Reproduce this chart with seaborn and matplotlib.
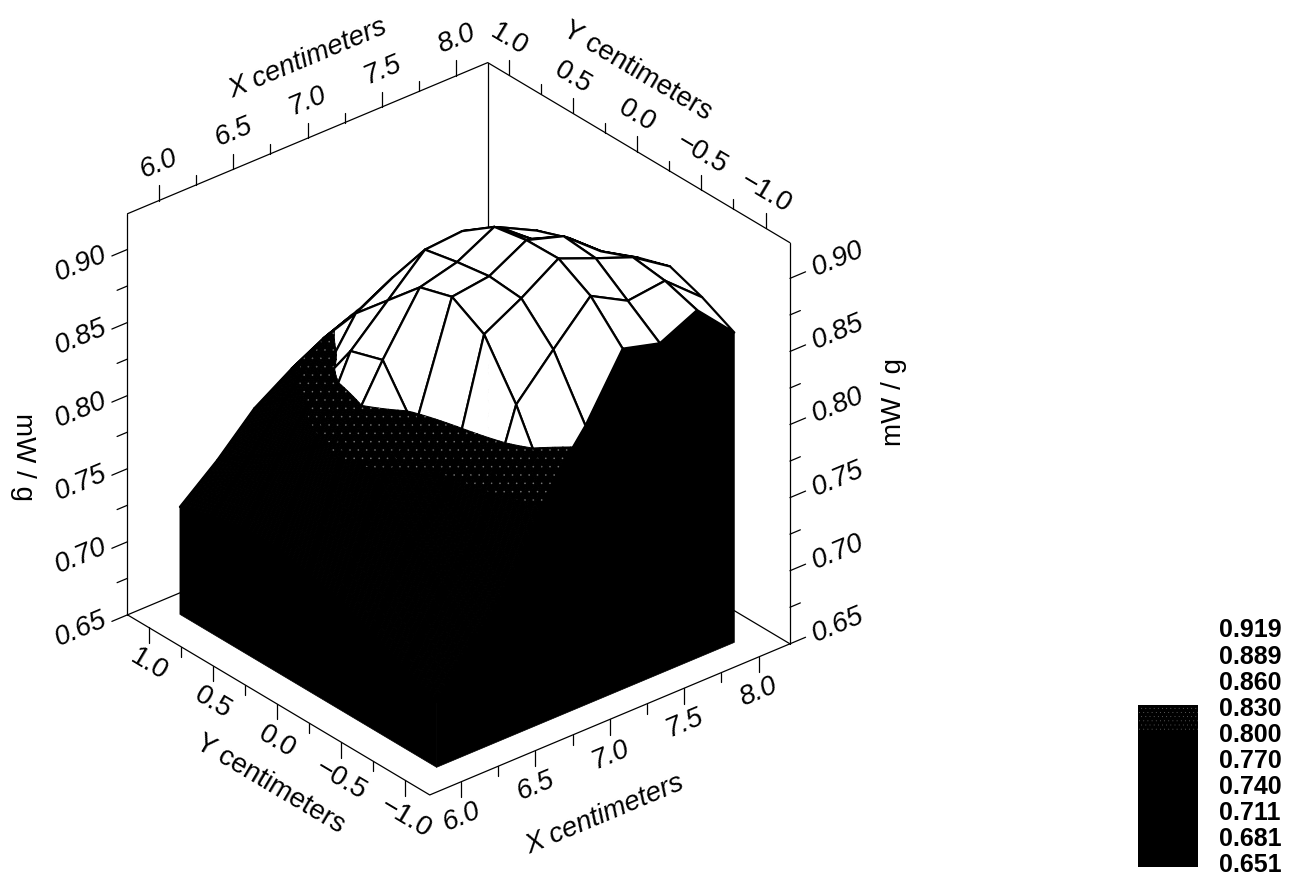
import numpy as np
import matplotlib
matplotlib.use("Agg")
import matplotlib.pyplot as plt
from matplotlib.colors import ListedColormap
from matplotlib.patches import Rectangle
from mpl_toolkits.mplot3d.art3d import Poly3DCollection
import seaborn as sns

# grid of the scan
x_nodes = [6.0, 6.25, 6.5, 6.75, 7.0, 7.25, 7.5, 7.75, 8.0]
y_nodes = [-1.0, -0.75, -0.5, -0.25, 0.0, 0.25, 0.5, 0.75, 1.0]

# mW/g, one row per x, columns follow y_nodes
sar_x600 = [.695, .705, .715, .725, .730, .735, .735, .730, .7235]
sar_x625 = [.725, .745, .765, .790, .811, .793, .775, .760, .7447]
sar_x650 = [.755, .774, .790, .8215, .855, .848, .812, .790, .7696]
sar_x675 = [.808, .853, .888, .9006, .894, .872, .850, .820, .786]
sar_x700 = [.841, .880, .902, .904, .9006, .896, .864, .830, .799]
sar_x725 = [.883, .906, .9185, .918, .914, .898, .868, .840, .805]
sar_x750 = [.876, .892, .908, .910, .895, .890, .865, .840, .810]
sar_x775 = [.888, .895, .898, .889, .885, .877, .855, .835, .810]
sar_x800 = [.862, .873, .881, .874, .864, .859, .840, .825, .800]

x_labels = ["6.0", "6.5", "7.0", "7.5", "8.0"]
y_labels = ["\u22121.0", "\u22120.5", "0.0", "0.5", "1.0"]
z_labels = ["0.65", "0.70", "0.75", "0.80", "0.85", "0.90"]
legend_levels = [0.919, 0.889, 0.860, 0.830, 0.800, 0.770, 0.740, 0.711, 0.681, 0.651]

sns.set_theme(style="white")
plt.rcParams["font.family"] = ["Liberation Sans", "DejaVu Sans"]
plt.rcParams["hatch.linewidth"] = 0.0

X = np.array(x_nodes)
Y = np.array(y_nodes)
Z = np.array([sar_x600, sar_x625, sar_x650, sar_x675, sar_x700,
              sar_x725, sar_x750, sar_x775, sar_x800])

xmin, xmax = 5.79, 8.21
ymin, ymax = -1.19, 1.165
zmin, zmax = 0.65, 0.9244

fig = plt.figure(figsize=(13.03, 8.78), dpi=100)
ax = fig.add_axes([24.8 / 1303, 14.3 / 878, 845 / 1303, 845 / 878], projection="3d",
                  computed_zorder=False)
ax.set_proj_type("ortho")
ax.view_init(elev=30, azim=-130)
ax.set_xlim(xmin, xmax)
ax.set_ylim(ymin, ymax)
ax.set_zlim(zmin, zmax)
ax.set_box_aspect((1, 1, 0.985), zoom=0.931)
ax.set_axis_off()
ax.patch.set_visible(False)


def line(xs, ys, zs, lw=0.9, zorder=1):
    ax.plot(xs, ys, zs, color="black", lw=lw, zorder=zorder, solid_capstyle="round")


def clip_level(poly, level, keep_above):
    # cut a polygon at a z level, keeps one side
    out = []
    for a, b in zip(poly, poly[1:] + poly[:1]):
        a_in = (a[2] >= level) == keep_above
        b_in = (b[2] >= level) == keep_above
        if a_in:
            out.append(a)
        if a_in != b_in:
            t = (level - a[2]) / (b[2] - a[2])
            out.append((a[0] + t * (b[0] - a[0]), a[1] + t * (b[1] - a[1]), level))
    return out


# box edges, the floor ones behind the solid
line([xmin, xmax], [ymax, ymax], [zmin, zmin])
line([xmax, xmax], [ymin, ymax], [zmin, zmin])
line([xmax, xmax], [ymax, ymax], [zmin, zmax])
line([xmin, xmin, xmax], [ymax, ymin, ymin], [zmin, zmin, zmin], zorder=9000)
line([xmin, xmin], [ymax, ymax], [zmin, zmax])
line([xmax, xmax], [ymin, ymin], [zmin, zmax])
line([xmin, xmax, xmax], [ymax, ymax, ymin], [zmax, zmax, zmax])

# surface, back to front so the dome hides its own far side
order = sorted(((i, j) for i in range(8) for j in range(8)), key=lambda c: -(c[0] + c[1]))
n_sub = 8
zo = 10
for i, j in order:
    corners = Z[i:i + 2, j:j + 2]
    n = 1 if corners.min() >= 0.83 else n_sub
    s = np.linspace(0, 1, n + 1)
    u, v = np.meshgrid(s, s, indexing="ij")
    xs = X[i] + u * (X[i + 1] - X[i])
    ys = Y[j] + v * (Y[j + 1] - Y[j])
    zs = (corners[0, 0] * (1 - u) * (1 - v) + corners[1, 0] * u * (1 - v)
          + corners[0, 1] * (1 - u) * v + corners[1, 1] * u * v)
    dark, white, stip = [], [], []
    for a in range(n):
        for b in range(n):
            q = [(xs[a + p, b + r], ys[a + p, b + r], zs[a + p, b + r])
                 for p, r in ((0, 0), (1, 0), (1, 1), (0, 1))]
            top = clip_level(q, 0.83, True)
            low = clip_level(q, 0.83, False)
            if len(top) > 2:
                white.append(top)
            if len(low) > 2:
                dark.append(low)
                band = clip_level(low, 0.80, True)
                if len(band) > 2:
                    stip.append(band)
    if white:
        ax.add_collection3d(Poly3DCollection(white, facecolors="white", edgecolors="white",
                                             linewidths=0.6, zorder=zo))
    # cell outline, only matters on the white part
    line([X[i], X[i + 1], X[i + 1], X[i], X[i]],
         [Y[j], Y[j], Y[j + 1], Y[j + 1], Y[j]],
         [Z[i, j], Z[i + 1, j], Z[i + 1, j + 1], Z[i, j + 1], Z[i, j]],
         lw=1.6, zorder=zo + 1)
    if dark:
        ax.add_collection3d(Poly3DCollection(dark, facecolors="black", edgecolors="black",
                                             linewidths=0.7, zorder=zo + 2))
    if stip:
        ax.add_collection3d(Poly3DCollection(stip, facecolors=(0, 0, 0, 0), edgecolors="#777777",
                                             linewidths=0, hatch="..", zorder=zo + 2))
    zo += 3

# curtain walls on the two near sides
wall_x = [(X[0], Y[k], Z[0, k]) for k in range(9)] + [(X[0], Y[8], zmin), (X[0], Y[0], zmin)]
wall_y = [(X[k], Y[0], Z[k, 0]) for k in range(9)] + [(X[8], Y[0], zmin), (X[0], Y[0], zmin)]
ax.add_collection3d(Poly3DCollection([wall_x, wall_y], facecolors="black", edgecolors="black",
                                     linewidths=0.5, zorder=zo))

# ticks
tick_long, tick_short = 0.0105, 0.0068
for k, t in enumerate(np.arange(6.0, 8.01, 0.25)):
    h = tick_long if k % 2 == 0 else tick_short
    line([t, t], [ymin, ymin], [zmin, zmin - h], zorder=9000)
    line([t, t], [ymax, ymax], [zmax, zmax + h])
for k, t in enumerate(np.arange(-1.0, 1.01, 0.25)):
    h = tick_long if k % 2 == 0 else tick_short
    line([xmin, xmin], [t, t], [zmin, zmin - h], zorder=9000)
    line([xmax, xmax], [t, t], [zmax, zmax + h])
for k, t in enumerate(np.arange(0.65, 0.901, 0.025)):
    d = 0.105 if k % 2 == 0 else 0.07
    line([xmin, xmin - d], [ymax, ymax], [t, t])
    line([xmax, xmax + d], [ymin, ymin], [t, t])

# labels, 3d text takes its angle from the direction given as zdir
tick_font = dict(fontsize=20, ha="center", va="center", rotation_mode="anchor", color="black",
                 zorder=9500)
for s in x_labels:
    v = float(s)
    ax.text(v, ymin, zmin - 0.0235, s, zdir="x", style="italic", **tick_font)
    ax.text(v, ymax, zmax + 0.026, s, zdir="x", style="italic", **tick_font)
for s in y_labels:
    v = float(s.replace("\u2212", "-"))
    ax.text(xmin, v, zmin - 0.025, s, zdir="y", **tick_font)
    ax.text(xmax, v, zmax + 0.025, s, zdir="y", **tick_font)
for s in z_labels:
    v = float(s)
    ax.text(xmin - 0.31, ymax, v + 0.004, s, zdir="x", style="italic", **tick_font)
    ax.text(xmax + 0.32, ymin, v, s, zdir="x", style="italic", **tick_font)

ax.text(6.97, ymin, zmin - 0.063, "X centimeters", zdir="x", style="italic", **tick_font)
ax.text(7.0, ymax, zmax + 0.055, "X centimeters", zdir="x", style="italic", **tick_font)
ax.text(xmin, 0.05, zmin - 0.057, "Y centimeters", zdir="y", **tick_font)
ax.text(xmax, 0.0, zmax + 0.056, "Y centimeters", zdir="y", **tick_font)
ax.text(xmax + 0.70, ymin, 0.786, "mW / g", zdir="z", **tick_font)
fig.text(23 / 1303, 1 - 457 / 878, "mW / g", rotation=-90, fontsize=20, ha="center", va="center",
         color="black")

# level legend
levels = np.array(legend_levels)
mids = (levels[:-1] + levels[1:]) / 2
bands = np.digitize(mids, [0.80, 0.83]).reshape(-1, 1)
cax = fig.add_axes([1138 / 1303, 10 / 878, 60 / 1303, 240 / 878])
sns.heatmap(bands, ax=cax, cbar=False, vmin=0, vmax=2,
            cmap=ListedColormap(["black", "black", "white"]),
            xticklabels=False, yticklabels=False)
cax.add_patch(Rectangle((0, 3), 1, 1, facecolor="none", edgecolor="#999999", lw=0, hatch="...."))
cax.add_patch(Rectangle((0, 9), 1, 0.2, facecolor="black", edgecolor="none", clip_on=False))
cax.set_ylim(9.2, 0)
cax.set_yticks(range(len(legend_levels)))
cax.set_yticklabels([f"{v:.3f}" for v in legend_levels], rotation=0, fontsize=18,
                    fontweight="bold", color="black")
cax.yaxis.tick_right()
cax.tick_params(axis="y", length=0, pad=15)
for sp in cax.spines.values():
    sp.set_visible(False)

fig.savefig("out.png", dpi=100, facecolor="white")
